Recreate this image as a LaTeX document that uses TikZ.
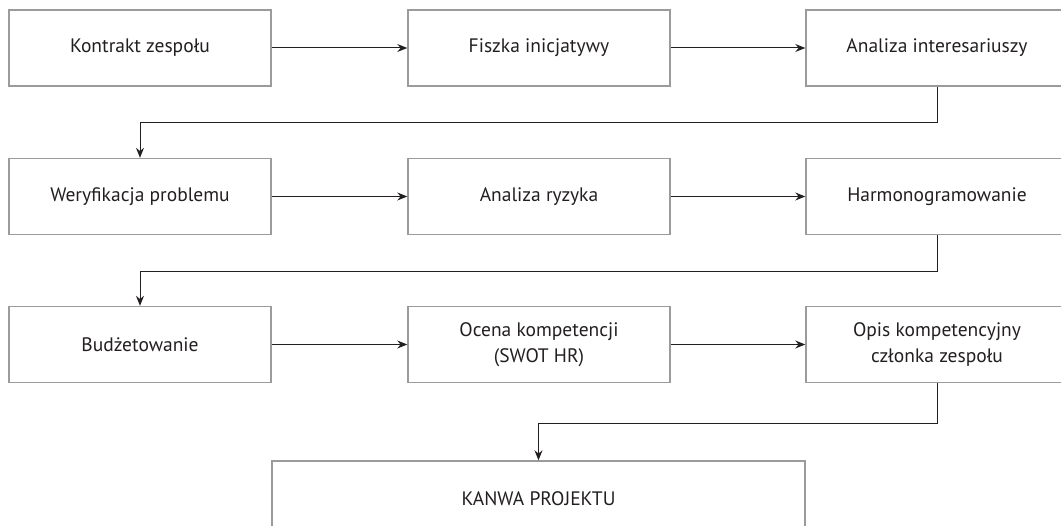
\documentclass[tikz,border=0pt]{standalone}
\usepackage{fontspec}
\setmainfont{PT Sans}
\usetikzlibrary{arrows.meta}
\definecolor{boxgray}{HTML}{9B9B9B}
\definecolor{ink}{HTML}{231F20}
\begin{document}
\begin{tikzpicture}[x=1pt,y=-1pt,
  stepbox/.style={draw=boxgray,line width=1.4pt,minimum width=262pt,minimum height=76pt,
    align=center,text=ink,font=\fontsize{19.5}{26}\selectfont,inner sep=0pt},
  conn/.style={draw=ink,line width=1pt,-{Stealth[length=10pt,width=8pt]}}]
\useasboundingbox (0,0) rectangle (1061,526);
\begin{scope}
\clip (0,0) rectangle (1061,526);
\node[stepbox] (a1) at (140,48) {Kontrakt zespołu};
\node[stepbox] (a2) at (539,48) {Fiszka inicjatywy};
\node[stepbox] (a3) at (937,48) {Analiza interesariuszy};
\node[stepbox] (b1) at (140,196.5) {Weryfikacja problemu};
\node[stepbox] (b2) at (539,196.5) {Analiza ryzyka};
\node[stepbox] (b3) at (937,196.5) {Harmonogramowanie};
\node[stepbox] (c1) at (140,344.5) {Budżetowanie};
\node[stepbox] (c2) at (539,344.5) {Ocena kompetencji\\(SWOT HR)};
\node[stepbox] (c3) at (937,344.5) {Opis kompetencyjny\\członka zespołu};
\node[stepbox,minimum width=533pt] (d) at (538.5,499) {KANWA PROJEKTU};
\end{scope}
\draw[conn] (a1.east) -- (a2.west);
\draw[conn] (a2.east) -- (a3.west);
\draw[conn] (a3.south) -- ++(0,36) -| (b1.north);
\draw[conn] (b1.east) -- (b2.west);
\draw[conn] (b2.east) -- (b3.west);
\draw[conn] (b3.south) -- ++(0,36) -| (c1.north);
\draw[conn] (c1.east) -- (c2.west);
\draw[conn] (c2.east) -- (c3.west);
\draw[conn] (c3.south) -- ++(0,40) -| (d.north);
\end{tikzpicture}
\end{document}
